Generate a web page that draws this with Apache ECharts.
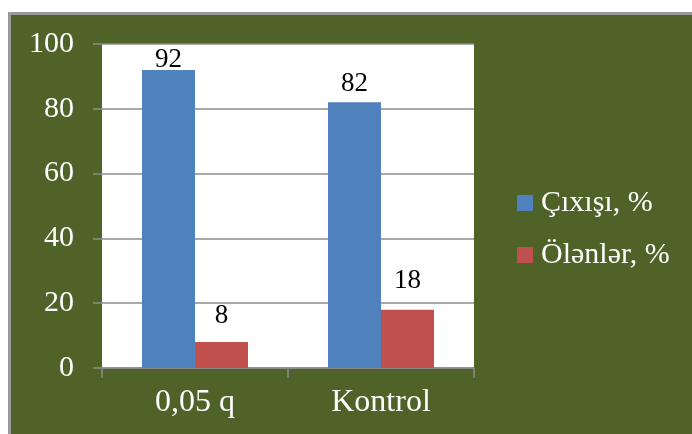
<!DOCTYPE html>
<html>
<head>
<meta charset="utf-8">
<script src="https://cdn.jsdelivr.net/npm/echarts@6/dist/echarts.min.js"></script>
<style>
  html, body { margin: 0; padding: 0; background: #ffffff; width: 692px; height: 434px; overflow: hidden; }
  #chart { position: absolute; left: 8px; top: 12px; width: 681px; height: 419px;
           border-left: 3px solid #9a9a9a; border-top: 3px solid #9a9a9a; }
</style>
</head>
<body>
<div id="chart"></div>
<script>
// Hatching results per treatment
const categories = ['0,05 q', 'Kontrol'];
const seriesNames = ['Çıxışı, %', 'Ölənlər, %'];
const hatched = [92, 82];
const died = [8, 18];
const yTicks = [0, 20, 40, 60, 80, 100];

// gap (px) between each value label and its bar top
const hatchedLabelGap = [-3, 5];
const diedLabelGap = [13, 15];

const serif = '"Liberation Serif", "Times New Roman", serif';

function withLabels(values, gaps) {
  return values.map((v, i) => ({ value: v, label: { distance: gaps[i] } }));
}

const chart = echarts.init(document.getElementById('chart'));
chart.setOption({
  backgroundColor: '#4F6228',
  animation: false,
  grid: { left: 91, top: 29, right: 218, bottom: 66, containLabel: false,
          show: true, backgroundColor: '#ffffff', borderWidth: 0 },
  legend: {
    orient: 'vertical', left: 506, top: 173, padding: 0,
    itemWidth: 16, itemHeight: 16, itemGap: 22,
    icon: 'rect',
    textStyle: { color: '#ffffff', fontFamily: serif, fontSize: 30, lineHeight: 29, padding: [0, 0, 0, 3] },
    data: seriesNames
  },
  xAxis: {
    type: 'category', data: categories,
    axisLine: { lineStyle: { color: '#8c8c8c', width: 1.5 } },
    axisTick: { show: true, length: 10, lineStyle: { color: '#8c8c8c', width: 1.5 } },
    axisLabel: { color: '#ffffff', fontFamily: serif, fontSize: 32, margin: 19 }
  },
  yAxis: {
    type: 'value', min: yTicks[0], max: yTicks[yTicks.length - 1], interval: yTicks[1] - yTicks[0],
    axisLine: { show: false },
    axisTick: { show: true, length: 9, lineStyle: { color: '#8c8c8c', width: 1.5 } },
    splitLine: { lineStyle: { color: '#8c8c8c', width: 1.5 } },
    axisLabel: { color: '#ffffff', fontFamily: serif, fontSize: 30, margin: 28 }
  },
  series: [
    {
      name: seriesNames[0], type: 'bar', data: withLabels(hatched, hatchedLabelGap),
      itemStyle: { color: '#4F81BD' },
      barGap: '0%', barCategoryGap: '43%',
      label: { show: true, position: 'top', color: '#000000', fontFamily: serif, fontSize: 27 }
    },
    {
      name: seriesNames[1], type: 'bar', data: withLabels(died, diedLabelGap),
      itemStyle: { color: '#C0504D' },
      barGap: '0%', barCategoryGap: '43%',
      label: { show: true, position: 'top', color: '#000000', fontFamily: serif, fontSize: 27 }
    }
  ]
});
</script>
</body>
</html>
